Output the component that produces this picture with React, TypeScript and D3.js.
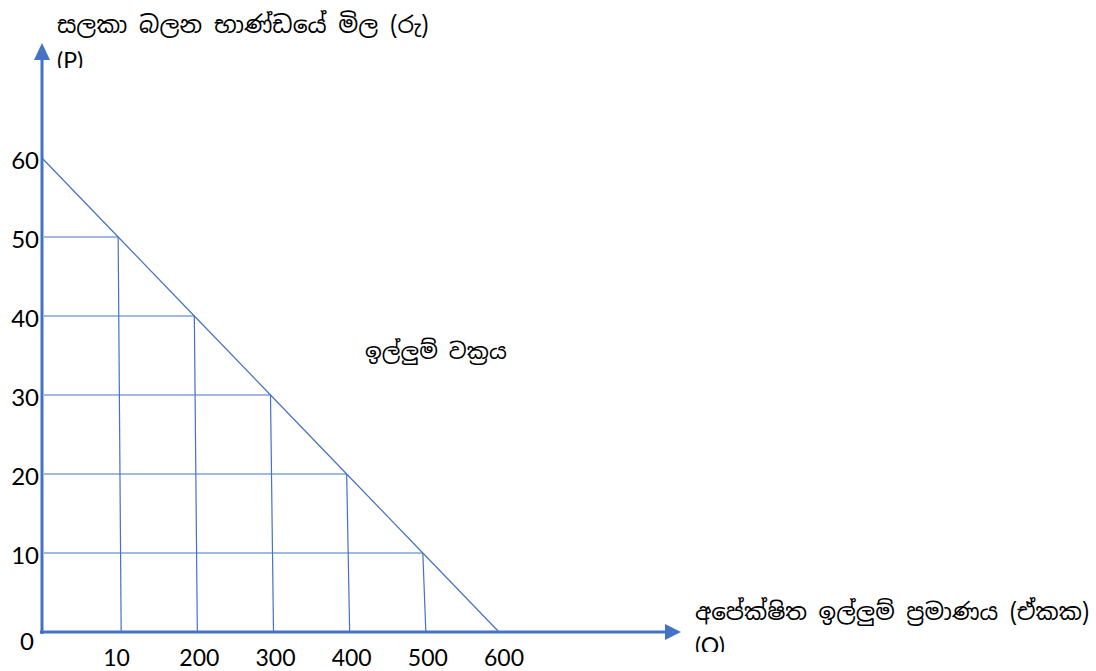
import React from 'react'
import * as d3 from 'd3'

// values
const priceTicks = [0, 10, 20, 30, 40, 50, 60]
const demandQty = [0, 100, 200, 300, 400, 500, 600]
const demandPrice = [60, 50, 40, 30, 20, 10, 0]
// tick labels as written under the quantity axis (first one is "10" in the original)
const qtyTickValues = [100, 200, 300, 400, 500, 600]
const qtyTickLabels = ['10', '200', '300', '400', '500', '600']

const priceTitle = 'සලකා බලන භාණ්ඩයේ මිල (රු)'
const priceSymbol = '(P)'
const qtyTitle = 'අපේක්ෂිත ඉල්ලුම් ප්\u200Dරමාණය (ඒකක)'
const qtySymbol = '(Q)'
const curveLabel = 'ඉල්ලුම් වක්\u200Dරය'

const W = 1096
const H = 671
const blue = '#4472C4'
const numFont = 'Lato, Carlito, "Liberation Sans", sans-serif'
const sinFont = '"Noto Sans Sinhala", "Iskoola Pota", "Noto Sans", sans-serif'

const App: React.FC = () => {
  const x = d3.scaleLinear().domain([0, 600]).range([42, 499])
  const y = d3.scaleLinear().domain([0, 60]).range([632, 158])

  const pts = demandQty.map((q, i) => ({ q, p: demandPrice[i] }))
  const line = d3.line<{ q: number; p: number }>()
    .x(d => x(d.q))
    .y(d => y(d.p))

  // inner points (not the axis ends) get the guide lines
  const inner = pts.filter(d => d.q > 0 && d.p > 0)

  const x0 = x(0)
  const y0 = y(0)

  return (
    <svg width={W} height={H} style={{ position: 'absolute', left: 0, top: 0, background: '#fff' }}>
      <defs>
        <clipPath id="clipP"><rect x={0} y={0} width={W} height={68} /></clipPath>
        <clipPath id="clipQ"><rect x={0} y={0} width={W} height={652} /></clipPath>
      </defs>

      {/* guide lines */}
      {inner.map(d => (
        <g key={d.q} stroke={blue} strokeWidth={1.2}>
          <line x1={x0 + 2} y1={y(d.p)} x2={x(d.q)} y2={y(d.p)} />
          <line x1={x(d.q)} y1={y(d.p)} x2={x(d.q) + 3} y2={y0} />
        </g>
      ))}

      {/* demand curve */}
      <path d={line(pts) ?? ''} fill="none" stroke={blue} strokeWidth={1.2} />

      {/* axes */}
      <line x1={x0} y1={y0 + 2} x2={x0} y2={58} stroke={blue} strokeWidth={3} />
      <path d={`M${x0},43 L${x0 - 8},60 L${x0 + 8},60 Z`} fill={blue} />
      <line x1={x0 - 2} y1={y0} x2={667} y2={y0} stroke={blue} strokeWidth={3} />
      <path d={`M681,${y0} L665,${y0 - 8} L665,${y0 + 8} Z`} fill={blue} />

      {/* price ticks */}
      {priceTicks.map(p => (
        <text key={p} x={p === 0 ? 34 : 39} y={y(p) + (p === 0 ? 8 : 1)} textAnchor="end"
          dominantBaseline="central" fontFamily={numFont} fontSize={24} fill="#000">
          {p}
        </text>
      ))}

      {/* quantity ticks */}
      {qtyTickValues.map((q, i) => (
        <text key={q} x={x(q) - 15} y={666} textAnchor="start"
          fontFamily={numFont} fontSize={23} fill="#000">
          {qtyTickLabels[i]}
        </text>
      ))}

      {/* titles */}
      <text x={57} y={33} fontFamily={sinFont} fontSize={23.5} fill="#000">{priceTitle}</text>
      <text x={57} y={69} fontFamily={numFont} fontSize={23} fill="#000" clipPath="url(#clipP)">{priceSymbol}</text>
      <text x={695} y={620} fontFamily={sinFont} fontSize={23} fill="#000">{qtyTitle}</text>
      <text x={695} y={654} fontFamily={numFont} fontSize={23} fill="#000" clipPath="url(#clipQ)">{qtySymbol}</text>
      <text x={365} y={359} fontFamily={sinFont} fontSize={22} fill="#000">{curveLabel}</text>
    </svg>
  )
}

export default App
